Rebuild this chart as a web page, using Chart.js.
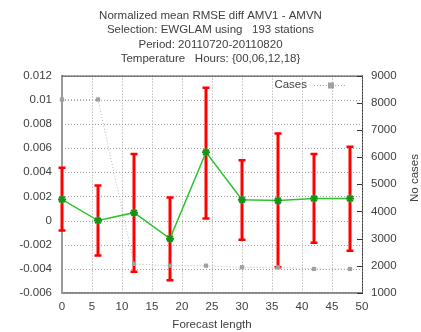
<!DOCTYPE html>
<html>
<head>
<meta charset="utf-8">
<script src="https://cdn.jsdelivr.net/npm/chart.js@4.4.1/dist/chart.umd.min.js"></script>
<style>
html,body{margin:0;padding:0;background:#fff;}
#wrap{width:421px;height:332px;position:relative;}
</style>
</head>
<body>
<div id="wrap"><canvas id="c" width="421" height="332"></canvas></div>
<script>
const titleLines = ["Normalized mean RMSE diff AMV1 - AMVN", "Selection: EWGLAM using   193 stations", "Period: 20110720-20110820", "Temperature   Hours: {00,06,12,18}"];
const leadTimes = [0, 6, 12, 18, 24, 30, 36, 42, 48];
const meanDiff = [0.00175, 0.0, 0.00065, -0.0015, 0.00565, 0.00172, 0.00165, 0.00182, 0.00182];
const errLow = [-0.00083, -0.0029, -0.00425, -0.00495, 0.00017, -0.0016, -0.00387, -0.00185, -0.0025];
const errHigh = [0.00437, 0.0029, 0.0055, 0.0019, 0.011, 0.005, 0.0072, 0.0055, 0.0061];
const cases = [8120, 8120, 2070, 2005, 2005, 1945, 1945, 1885, 1885];
const xTitle = "Forecast length";
const y2Title = "No cases";
const legendLabel = "Cases";

const FONT = "'Liberation Sans', Arial, sans-serif";
const TXT = '#404040';

const gridAndBars = {
  id: 'gridAndBars',
  beforeDatasetsDraw(chart) {
    const {ctx, chartArea:a, scales:{x, y}} = chart;
    ctx.save();
    // dotted grid
    ctx.strokeStyle = '#a0a0a0';
    ctx.lineWidth = 1;
    ctx.setLineDash([1, 2]);
    ctx.beginPath();
    x.ticks.forEach(tk => {
      const px = Math.round(x.getPixelForValue(tk.value)) + 0.5;
      ctx.moveTo(px, a.top); ctx.lineTo(px, a.bottom);
    });
    y.ticks.forEach(tk => {
      const py = Math.round(y.getPixelForValue(tk.value)) + 0.5;
      ctx.moveTo(a.left, py); ctx.lineTo(a.right, py);
    });
    ctx.stroke();
    ctx.setLineDash([]);
    // error bars
    ctx.strokeStyle = '#ff0000';
    leadTimes.forEach((t, i) => {
      const px = x.getPixelForValue(t);
      const p1 = y.getPixelForValue(errLow[i]);
      const p2 = y.getPixelForValue(errHigh[i]);
      ctx.lineWidth = 3;
      ctx.beginPath(); ctx.moveTo(px, p1); ctx.lineTo(px, p2); ctx.stroke();
      ctx.lineWidth = 2.5;
      ctx.beginPath();
      ctx.moveTo(px - 3.5, p1); ctx.lineTo(px + 3.5, p1);
      ctx.moveTo(px - 3.5, p2); ctx.lineTo(px + 3.5, p2);
      ctx.stroke();
    });
    ctx.restore();
  }
};

const frame = {
  id: 'frame',
  afterDatasetsDraw(chart) {
    const {ctx, chartArea:a, scales:{y2}} = chart;
    ctx.save();
    ctx.strokeStyle = '#333';
    ctx.lineWidth = 1;
    ctx.beginPath();
    y2.ticks.forEach(tk => {
      const py = Math.round(y2.getPixelForValue(tk.value)) + 0.5;
      ctx.moveTo(a.right - 5, py); ctx.lineTo(a.right, py);
    });
    ctx.stroke();
    ctx.beginPath(); ctx.moveTo(a.left, a.top + 0.5); ctx.lineTo(a.right, a.top + 0.5); ctx.stroke();
    const ly = 85;
    ctx.fillStyle = TXT;
    ctx.font = "11.5px " + FONT;
    ctx.textAlign = 'right';
    ctx.textBaseline = 'middle';
    ctx.fillText(legendLabel, 307, ly);
    ctx.strokeStyle = '#b0b0b0';
    ctx.setLineDash([1, 2]);
    ctx.beginPath(); ctx.moveTo(314, ly + 0.5); ctx.lineTo(346, ly + 0.5); ctx.stroke();
    ctx.setLineDash([]);
    ctx.fillStyle = '#a0a0a0';
    ctx.fillRect(328, ly - 2.5, 6, 6);
    ctx.translate(415, 178);
    ctx.rotate(-Math.PI / 2);
    ctx.textAlign = 'center';
    ctx.fillStyle = TXT;
    ctx.fillText(y2Title, 0, 0);
    ctx.restore();
  }
};

new Chart(document.getElementById('c'), {
  type: 'line',
  data: {
    datasets: [
      {
        label: legendLabel,
        data: leadTimes.map((t, i) => ({x: t, y: cases[i]})),
        yAxisID: 'y2',
        borderColor: '#b8b8b8',
        borderWidth: 1,
        borderDash: [1, 2],
        pointStyle: 'rect',
        pointRadius: 3,
        pointBackgroundColor: '#a0a0a0',
        pointBorderColor: '#a0a0a0',
        pointBorderWidth: 0,
        clip: false,
        order: 2
      },
      {
        label: 'diff',
        data: leadTimes.map((t, i) => ({x: t, y: meanDiff[i]})),
        yAxisID: 'y',
        borderColor: '#2ec42e',
        borderWidth: 1.5,
        pointStyle: 'star',
        pointRadius: 4,
        pointBorderColor: '#149414',
        pointBackgroundColor: '#149414',
        pointBorderWidth: 2,
        clip: false,
        order: 1
      }
    ]
  },
  options: {
    responsive: false,
    animation: false,
    devicePixelRatio: 1,
    layout: {padding: 0},
    plugins: {
      legend: {display: false},
      tooltip: {enabled: false},
      title: {
        display: true,
        text: titleLines,
        color: TXT,
        font: {family: FONT, size: 11.5, weight: 'normal', lineHeight: 1.23},
        padding: {top: 9, bottom: 10}
      }
    },
    scales: {
      x: {
        type: 'linear', min: 0, max: 50,
        ticks: {stepSize: 5, color: TXT, font: {family: FONT, size: 11.5}, padding: 7, maxRotation: 0},
        grid: {display: false, drawTicks: false},
        border: {display: true, color: '#888', width: 2},
        title: {display: true, text: xTitle, color: TXT, font: {family: FONT, size: 11.5}, padding: {top: 4, bottom: 0}},
        afterFit(s) { s.height = 39; }
      },
      y: {
        type: 'linear', position: 'left', min: -0.006, max: 0.012,
        ticks: {stepSize: 0.002, color: TXT, font: {family: FONT, size: 11.5}, padding: 10,
          callback: v => String(Number(v.toFixed(4)))},
        grid: {display: false, drawTicks: false},
        border: {display: true, color: '#999', width: 2},
        afterFit(s) { s.width = 62; }
      },
      y2: {
        type: 'linear', position: 'right', min: 1000, max: 9000,
        ticks: {stepSize: 1000, color: TXT, font: {family: FONT, size: 11.5}, padding: 9,
          callback: v => String(v)},
        grid: {display: false, drawTicks: false},
        border: {color: '#333', width: 1},
        afterFit(s) { s.width = 59; }
      }
    }
  },
  plugins: [gridAndBars, frame]
});
</script>
</body>
</html>
